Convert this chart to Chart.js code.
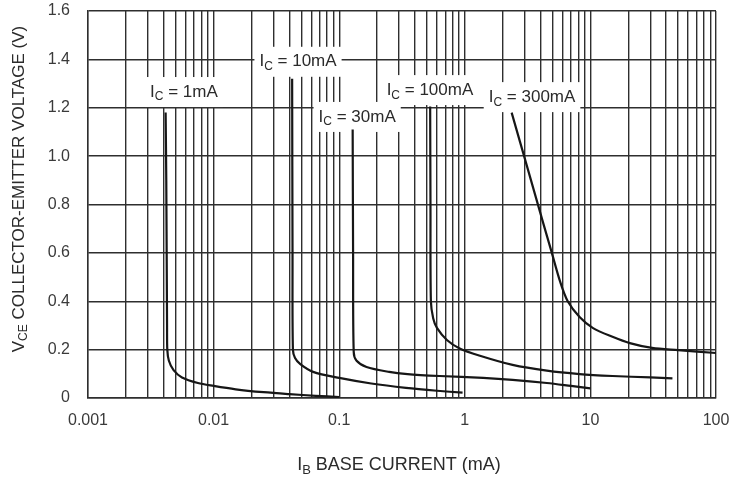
<!DOCTYPE html>
<html>
<head>
<meta charset="utf-8">
<script src="https://cdn.jsdelivr.net/npm/chart.js@4.4.1/dist/chart.umd.min.js"></script>
<style>
  body { margin: 0; background: #fff; }
  #wrap { width: 730px; height: 481px; }
</style>
</head>
<body>
<div id="wrap"><canvas id="vceChart" width="730" height="481"></canvas></div>
<script>
// axis ticks
const xDecades = [0.001, 0.01, 0.1, 1, 10, 100];
const xTickLabels = ['0.001', '0.01', '0.1', '1', '10', '100'];
const yTicks = [0, 0.2, 0.4, 0.6, 0.8, 1.0, 1.2, 1.4, 1.6];
const yTickLabels = ['0', '0.2', '0.4', '0.6', '0.8', '1.0', '1.2', '1.4', '1.6'];

// curves: IB (mA) and VCE (V)
const ib1 = [0.00415, 0.0042, 0.00426, 0.00428, 0.0044, 0.0048, 0.0056, 0.0075, 0.010, 0.015, 0.025, 0.040, 0.065, 0.100];
const vce1 = [1.18, 0.90, 0.30, 0.20, 0.155, 0.115, 0.085, 0.062, 0.050, 0.036, 0.024, 0.016, 0.009, 0.004];

const ib10 = [0.0422, 0.0425, 0.0428, 0.0445, 0.049, 0.062, 0.10, 0.18, 0.34, 0.60, 0.96];
const vce10 = [1.32, 0.60, 0.20, 0.165, 0.140, 0.108, 0.083, 0.060, 0.042, 0.030, 0.022];

const ib30 = [0.128, 0.129, 0.1305, 0.137, 0.165, 0.25, 0.35, 0.63, 1.4, 2.4, 4.5, 7.0, 10.0];
const vce30 = [1.11, 0.60, 0.19, 0.155, 0.128, 0.108, 0.099, 0.091, 0.083, 0.075, 0.062, 0.050, 0.040];

const ib100 = [0.530, 0.533, 0.537, 0.56, 0.60, 0.72, 0.91, 1.3, 2.4, 4.5, 8.2, 15, 30, 45];
const vce100 = [1.205, 0.80, 0.40, 0.33, 0.29, 0.24, 0.205, 0.176, 0.137, 0.113, 0.099, 0.091, 0.085, 0.081];

const ib300 = [2.36, 3.2, 4.2, 4.9, 5.75, 6.6, 8.2, 10.5, 15, 20.6, 31, 50, 100];
const vce300 = [1.18, 0.94, 0.725, 0.605, 0.48, 0.40, 0.335, 0.289, 0.253, 0.227, 0.207, 0.198, 0.186];

const curveNames = ['1mA', '10mA', '30mA', '100mA', '300mA'];

// where each IC label sits, in axis units
const labelAt = [
  { x: 0.0058, y: 1.265 },
  { x: 0.047, y: 1.39 },
  { x: 0.139, y: 1.162 },
  { x: 0.528, y: 1.273 },
  { x: 3.43, y: 1.244 }
];

const FONT = "'Liberation Sans', Arial, sans-serif";
const INK = '#2b2b2b';
const GRID = '#2e2e2e';

function pts(xs, ys) {
  return xs.map((x, i) => ({ x: x, y: ys[i] }));
}

const curves = [pts(ib1, vce1), pts(ib10, vce10), pts(ib30, vce30), pts(ib100, vce100), pts(ib300, vce300)];

// width of a run of normal + subscript pieces
function measureParts(ctx, parts, size) {
  const subSize = Math.round(size * 0.72);
  let total = 0;
  parts.forEach(p => {
    ctx.font = (p.sub ? subSize : size) + 'px ' + FONT;
    p.w = ctx.measureText(p.t).width;
    total += p.w;
  });
  return total;
}

// draws text made of normal + subscript pieces, centred on (cx, cy)
function drawParts(ctx, parts, cx, cy, size) {
  const subSize = Math.round(size * 0.72);
  const total = measureParts(ctx, parts, size);
  let x = cx - total / 2;
  ctx.textAlign = 'left';
  ctx.textBaseline = 'middle';
  parts.forEach(p => {
    ctx.font = (p.sub ? subSize : size) + 'px ' + FONT;
    ctx.fillText(p.t, x, p.sub ? cy + size * 0.3 : cy);
    x += p.w;
  });
}

const labelPlugin = {
  id: 'icLabels',
  beforeDatasetsDraw(chart) {
    const ctx = chart.ctx;
    const xs = chart.scales.x, ys = chart.scales.y;
    ctx.save();
    labelAt.forEach((pos, i) => {
      const cx = xs.getPixelForValue(pos.x);
      const cy = ys.getPixelForValue(pos.y);
      const parts = [{ t: 'I' }, { t: 'C', sub: true }, { t: ' = ' + curveNames[i] }];
      const w = measureParts(ctx, parts, 17);
      ctx.fillStyle = '#fff';
      ctx.fillRect(cx - w / 2 - 5, cy - 15, w + 10, 30);
      ctx.fillStyle = INK;
      drawParts(ctx, parts, cx, cy, 17);
    });
    ctx.restore();
  },
  afterDraw(chart) {
    const ctx = chart.ctx;
    ctx.save();
    ctx.fillStyle = INK;
    // x axis title
    drawParts(ctx, [{ t: 'I' }, { t: 'B', sub: true }, { t: ' BASE CURRENT (mA)' }], 399, 465, 18);
    // y axis title
    ctx.translate(19, 189);
    ctx.rotate(-Math.PI / 2);
    drawParts(ctx, [{ t: 'V' }, { t: 'CE', sub: true }, { t: ' COLLECTOR-EMITTER VOLTAGE (V)' }], 0, 0, 17);
    ctx.restore();
  }
};

new Chart(document.getElementById('vceChart'), {
  type: 'scatter',
  data: {
    datasets: curves.map((c, i) => ({
      label: 'IC = ' + curveNames[i],
      data: c,
      showLine: true,
      borderColor: '#161616',
      borderWidth: 2.2,
      pointRadius: 0,
      tension: 0.3,
      fill: false
    }))
  },
  options: {
    responsive: false,
    animation: false,
    layout: { padding: { top: 11, right: 14, left: 0, bottom: 0 } },
    plugins: {
      legend: { display: false },
      tooltip: { enabled: false }
    },
    scales: {
      x: {
        type: 'logarithmic',
        min: 0.001,
        max: 100,
        afterBuildTicks(scale) {
          const ticks = [];
          xDecades.forEach((d, i) => {
            if (i === xDecades.length - 1) {
              ticks.push({ value: d, major: true });
              return;
            }
            for (let m = 1; m <= 9; m++) ticks.push({ value: d * m, major: m === 1 });
          });
          scale.ticks = ticks;
        },
        afterFit(scale) {
          scale.height = 83;
          scale.paddingLeft = 0;
          scale.paddingRight = 0;
        },
        ticks: {
          autoSkip: false,
          maxRotation: 0,
          minRotation: 0,
          padding: 13,
          color: '#3a3a3a',
          font: { family: FONT, size: 16 },
          callback(value) {
            const k = xDecades.findIndex(d => Math.abs(d - value) / d < 1e-6);
            return k >= 0 ? xTickLabels[k] : '';
          }
        },
        grid: { color: GRID, lineWidth: 1.4, drawTicks: false },
        border: { color: GRID, width: 1.4 }
      },
      y: {
        type: 'linear',
        min: 0,
        max: 1.6,
        afterBuildTicks(scale) {
          scale.ticks = yTicks.map(v => ({ value: v }));
        },
        afterFit(scale) {
          scale.width = 88;
          scale.paddingTop = 0;
          scale.paddingBottom = 0;
        },
        ticks: {
          padding: 18,
          color: '#3a3a3a',
          font: { family: FONT, size: 16 },
          callback(value, index) {
            return yTickLabels[index];
          }
        },
        grid: { color: GRID, lineWidth: 1.4, drawTicks: false },
        border: { color: GRID, width: 1.4 }
      }
    }
  },
  plugins: [labelPlugin]
});
</script>
</body>
</html>
